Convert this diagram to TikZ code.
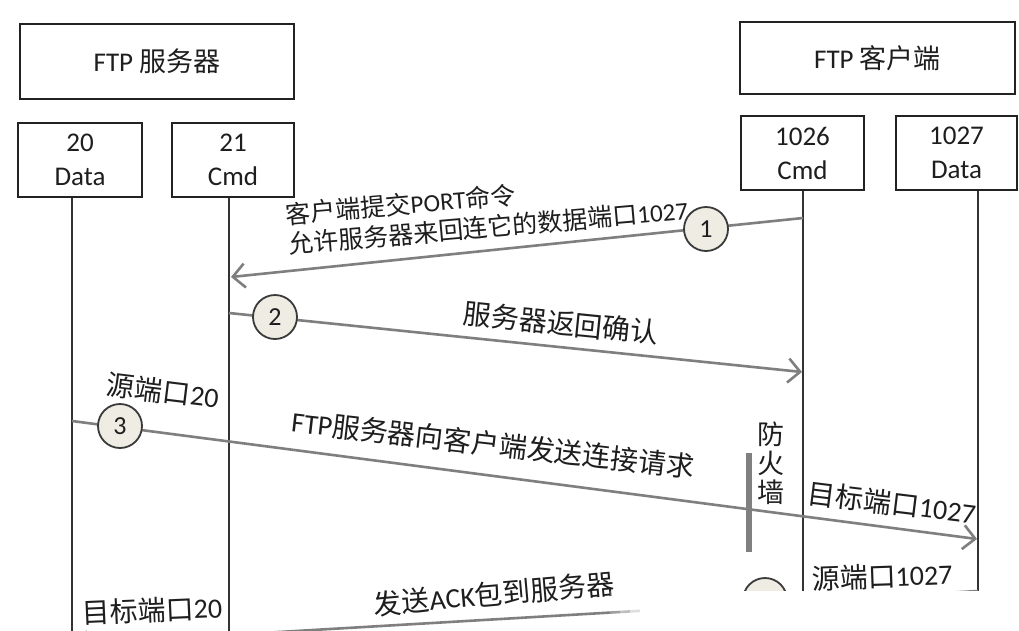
\documentclass[tikz,border=0pt]{standalone}
\usepackage{fontspec}
\setmainfont{Carlito}
\newfontfamily\cjk{Noto Sans CJK SC}
\newcommand{\C}[1]{{\cjk #1}}
\usetikzlibrary{arrows.meta}
\definecolor{boxc}{HTML}{222222}
\definecolor{lifec}{HTML}{333333}
\definecolor{arrc}{HTML}{7F7F7F}
\definecolor{numc}{HTML}{3A3A3A}
\definecolor{numfill}{HTML}{EEECE3}
\definecolor{txtc}{HTML}{1E1E1E}
\definecolor{fwc}{HTML}{808080}
\begin{document}
\begin{tikzpicture}[x=1pt,y=-1pt,
  box/.style={draw=boxc, line width=2.6pt, inner sep=0pt, text=txtc, align=center},
  life/.style={draw=lifec, line width=1.8pt},
  msg/.style={draw=arrc, line width=2.6pt, -{Straight Barb[length=12pt,width=24pt]}},
  num/.style={circle, draw=numc, fill=numfill, line width=1.8pt, minimum size=44pt, inner sep=0pt, text=txtc, font=\fontsize{26}{28}\selectfont},
  lbl/.style={inner sep=0pt, text=txtc, font=\fontsize{28}{30}\selectfont},
  small/.style={inner sep=0pt, text=txtc, font=\fontsize{25}{27}\selectfont}
]
\clip (0,0) rectangle (1019,630);
\fill[white] (0,0) rectangle (1019,630);

% header boxes
\node[box, minimum width=274pt, minimum height=75pt, font=\fontsize{27}{34}\selectfont] (srv) at (157,61.5) {FTP \C{服务器}};
\node[box, minimum width=275pt, minimum height=72pt, font=\fontsize{27}{34}\selectfont] (cli) at (877.5,58) {FTP \C{客户端}};

% port boxes
\node[box, minimum width=124pt, minimum height=74pt, font=\fontsize{27}{34}\selectfont] (p20) at (80,160) {20\\Data};
\node[box, minimum width=122pt, minimum height=74pt, font=\fontsize{27}{34}\selectfont] (p21) at (233,160) {21\\Cmd};
\node[box, minimum width=123pt, minimum height=74pt, font=\fontsize{27}{34}\selectfont] (p1026) at (802.5,153) {1026\\Cmd};
\node[box, minimum width=121pt, minimum height=74pt, font=\fontsize{27}{34}\selectfont] (p1027) at (956.5,153) {1027\\Data};

% lifelines
\coordinate (l20) at (72,640);
\coordinate (l21) at (229,640);
\coordinate (l1026) at (803,640);
\coordinate (l1027) at (978,640);
\draw[life] (p20.south -| l20) -- (l20);
\draw[life] (p21.south -| l21) -- (l21);
\draw[life] (p1026.south -| l1026) -- (l1026);
\draw[life] (p1027.south -| l1027) -- (l1027);

% messages
\coordinate (a1s) at (803,218);
\coordinate (a1e) at (231,277);
\coordinate (a2s) at (229,313);
\coordinate (a2e) at (802,372);
\coordinate (a3s) at (72,421);
\coordinate (a3e) at (977,539);
\coordinate (a4s) at (978,591);
\coordinate (a4e) at (74,644);
\draw[msg] (a1s) -- (a1e);
\draw[msg] (a2s) -- (a2e);
\draw[msg] (a3s) -- (a3e);
\draw[msg] (a4s) -- (a4e);

% firewall
\node[fill=fwc, minimum width=6pt, minimum height=99pt, inner sep=0pt] (fw) at (749,502.5) {};
\node[inner sep=0pt, text=txtc, align=center, font=\cjk\fontsize{27}{29}\selectfont] (fwt) at (771,463) {防\\火\\墙};

% numbered circles
\node[num] (n1) at (706,229) {1};
\node[num] (n2) at (275,317) {2};
\node[num] (n3) at (120,426) {3};
\node[num] (n4) at (765,600) {};

% labels
\node[small, rotate=5, align=left, font=\fontsize{25}{30}\selectfont] (t1) at (487,212)
  {\C{客户端提交}PORT\C{命令}\\\C{允许服务器来回连它的数据端口}1027};
\node[lbl, rotate=-5.8] (t2) at (561,323) {\C{服务器返回确认}};
\node[lbl, rotate=-7] (t3a) at (163,391) {\C{源端口}20};
\node[lbl, rotate=-6.5] (t3b) at (493,444) {FTP\C{服务器向客户端发送连接请求}};
\node[lbl, rotate=-7] (t3c) at (892,503) {\C{目标端口}1027};
\node[lbl, rotate=2] (t4a) at (882,576) {\C{源端口}1027};
\node[lbl, rotate=5] (t4b) at (494,594) {\C{发送}ACK\C{包到服务器}};
\node[lbl, rotate=2.5] (t4c) at (152,610) {\C{目标端口}20};

% watermark cover at the bottom right
\fill[white] (640,591) rectangle (1030,645);
\foreach \i/\o in {0/0.25,1/0.5,2/0.75} {
  \fill[white, opacity=\o] ({610+10*\i},591) rectangle ({620+10*\i},645);
}
\end{tikzpicture}
\end{document}
